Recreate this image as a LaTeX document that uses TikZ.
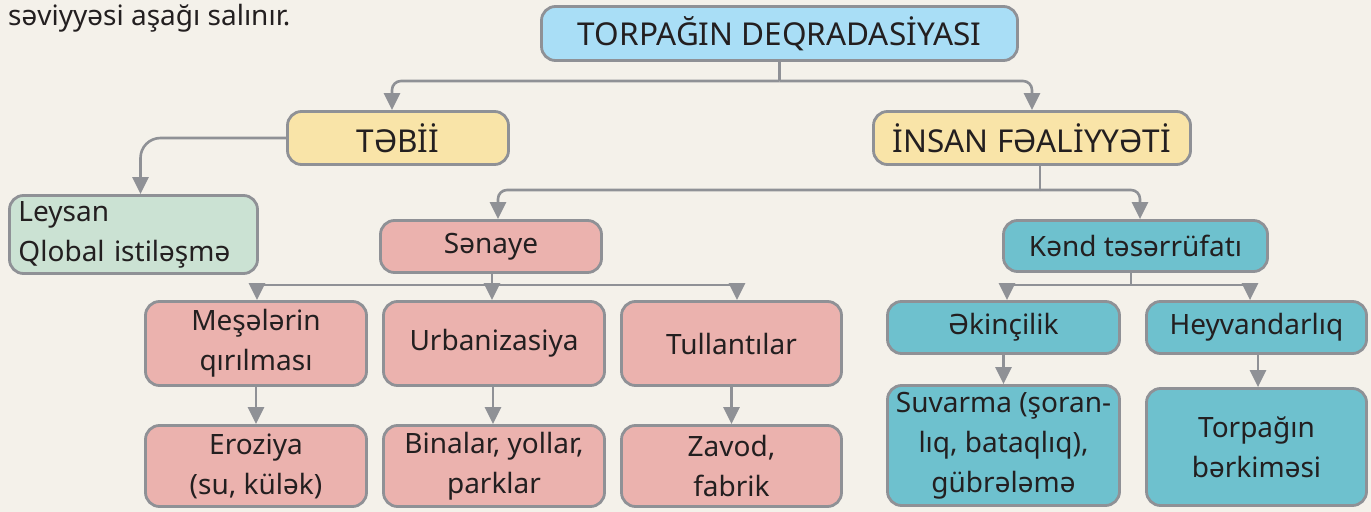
\documentclass[tikz,border=0pt]{standalone}
\usepackage{fontspec}
\setmainfont{Noto Sans}
\usetikzlibrary{arrows.meta}
\definecolor{bgc}{HTML}{F4F1EA}
\definecolor{edge}{HTML}{8F9196}
\definecolor{txt}{HTML}{231F20}
\definecolor{cblue}{HTML}{A9DEF6}
\definecolor{cyellow}{HTML}{F9E4A8}
\definecolor{cgreen}{HTML}{CBE2D3}
\definecolor{cpink}{HTML}{EBB2AE}
\definecolor{cteal}{HTML}{6EC1CE}
\tikzset{
  lbl/.style={font=\fontsize{28bp}{40bp}\selectfont, text=txt},
  capfont/.style={font=\fontsize{31.5bp}{40bp}\selectfont},
  box/.style={lbl, draw=edge, line width=2.8bp, rounded corners=14bp, inner sep=0pt, align=center},
  line/.style={draw=edge, line width=2.6bp},
  arr/.style={line, -{Triangle[length=17bp,width=16bp]}},
}
\begin{document}
\begin{tikzpicture}[x=1bp,y=-1bp]
\useasboundingbox (0,0) rectangle (1371,512);
\fill[bgc] (0,0) rectangle (1371,512);

\node[lbl, anchor=base west, inner sep=0pt] (intro) at (8,26) {səviyyəsi aşağı salınır.};

\node[box, capfont, fill=cblue, minimum width=476bp, minimum height=54bp] (top) at (779.5,33.5) {TORPAĞIN DEQRADASİYASI};
\node[box, capfont, fill=cyellow, minimum width=221bp, minimum height=53bp] (tebii) at (398,138) {TƏBİİ};
\node[box, capfont, fill=cyellow, minimum width=317bp, minimum height=53bp] (insan) at (1032,138) {İNSAN FƏALİYYƏTİ};
\node[box, fill=cgreen, text width=230bp, inner xsep=9bp, minimum height=78bp, align=left] (leysan) at (133.5,234.5) {Leysan\\Qlobal istiləşmə};
\node[box, fill=cpink, minimum width=221bp, minimum height=52bp] (senaye) at (491,246.5) {Sənaye};
\node[box, fill=cteal, minimum width=264bp, minimum height=51bp] (kend) at (1135.5,246) {Kənd təsərrüfatı};

\node[box, fill=cpink, minimum width=221bp, minimum height=84bp] (mese) at (256,343.5) {Meşələrin\\qırılması};
\node[box, fill=cpink, minimum width=221bp, minimum height=84bp] (urban) at (494,343.5) {Urbanizasiya};
\node[box, fill=cpink, minimum width=220bp, minimum height=84bp] (tull) at (731.5,343.5) {Tullantılar};
\node[box, fill=cpink, minimum width=221bp, minimum height=81bp] (eroz) at (256,466) {Eroziya\\(su, külək)};
\node[box, fill=cpink, minimum width=221bp, minimum height=81bp] (bina) at (494,466) {Binalar, yollar,\\parklar};
\node[box, fill=cpink, minimum width=220bp, minimum height=81bp] (zavod) at (731.5,466) {Zavod,\\fabrik};

\node[box, fill=cteal, minimum width=232bp, minimum height=52bp] (ekin) at (1003.5,327.5) {Əkinçilik};
\node[box, fill=cteal, minimum width=220bp, minimum height=52bp] (heyv) at (1256.5,327.5) {Heyvandarlıq};
\node[box, fill=cteal, minimum width=232bp, minimum height=120bp] (suv) at (1003.5,445.5) {Suvarma (şoran-\\lıq, bataqlıq),\\gübrələmə};
\node[box, fill=cteal, minimum width=220bp, minimum height=117bp] (torp) at (1256.5,447) {Torpağın\\bərkiməsi};

% connectors
\coordinate (j1) at (779.5,81);
\draw[line] (top.south) -- (j1);
\draw[arr, rounded corners=9bp] (j1) -| ([xshift=-6bp]tebii.north);
\draw[arr, rounded corners=9bp] (j1) -| (insan.north);

\draw[arr, rounded corners=20bp] (tebii.west) -| ([xshift=7bp]leysan.north);

\coordinate (j2) at (1040,190);
\draw[line] (insan.south -| j2) -- (j2);
\draw[arr, rounded corners=9bp] (j2) -| ([xshift=7bp]senaye.north);
\draw[arr, rounded corners=9bp] (j2) -| ([xshift=4.5bp]kend.north);

\coordinate (j3) at (492,285);
\draw[line] (senaye.south -| j3) -- (j3);
\draw[arr] (j3) -- (j3 |- urban.north);
\draw[arr] (j3) -| ([xshift=1bp]mese.north);
\draw[arr] (j3) -| ([xshift=5.5bp]tull.north);

\draw[arr] (mese) -- (eroz);
\draw[arr] ([xshift=-1bp]urban.south) -- ([xshift=-1bp]bina.north);
\draw[arr] (tull) -- (zavod);

\coordinate (j4) at (1131,285);
\draw[line] (kend.south -| j4) -- (j4);
\draw[arr] (j4) -| ([xshift=3.5bp]ekin.north);
\draw[arr] (j4) -| ([xshift=-6.5bp]heyv.north);

\draw[arr] (ekin) -- (suv);
\draw[arr] ([xshift=1.5bp]heyv.south) -- ([xshift=1.5bp]torp.north);
\end{tikzpicture}
\end{document}
